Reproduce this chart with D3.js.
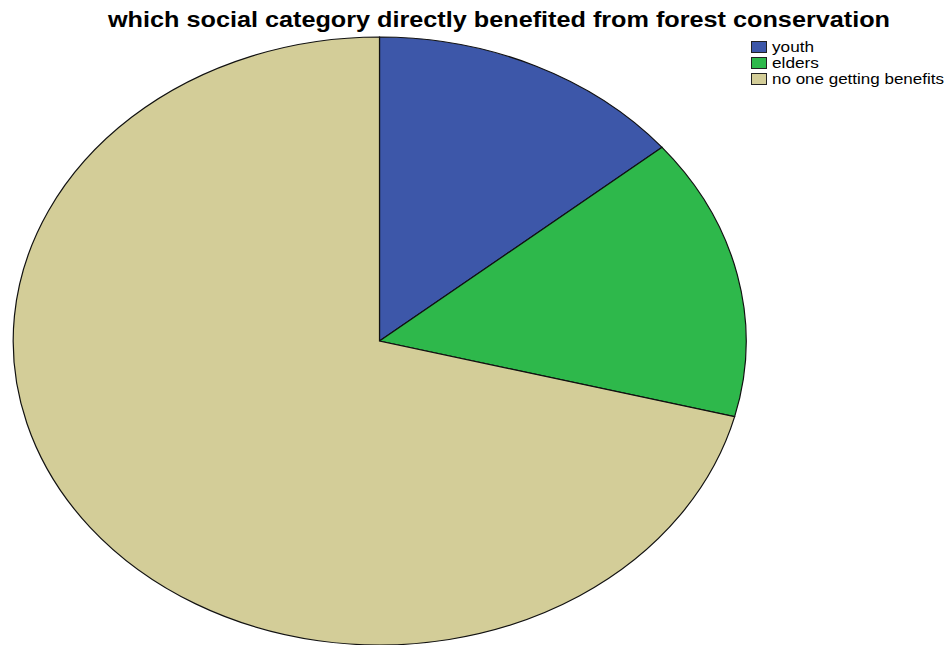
<!DOCTYPE html>
<meta charset="utf-8">
<script src="https://d3js.org/d3.v7.min.js"></script>
<style>
body { margin: 0; background: #fff; }
text { font-family: "Liberation Sans", Arial, sans-serif; }
</style>
<div id="chart"></div>
<script>

// chart data
var categories = ["youth", "elders", "no one getting benefits"];
var values = [14, 15, 71];
var colors = ["#3d57a9", "#2eb84b", "#d3cd98"];

var width = 946, height = 645;

var svg = d3.select("#chart")
  .append("svg")
    .attr("width", width)
    .attr("height", height);

// title (the original image is squashed, so force the width)
svg.append("text")
  .attr("x", 108)
  .attr("y", 27)
  .attr("textLength", 782)
  .attr("lengthAdjust", "spacingAndGlyphs")
  .style("font-size", "22px")
  .style("font-weight", "bold")
  .text("which social category directly benefited from forest conservation");

// pie is drawn on a unit circle and stretched into the ellipse
var cx = 379.5, cy = 341, rx = 366.5, ry = 304;

var pie = d3.pie().sort(null).value(function(d) { return d; });
var arc = d3.arc().innerRadius(0).outerRadius(1);

var g = svg.append("g")
  .attr("transform", "translate(" + cx + "," + cy + ") scale(" + rx + "," + ry + ")");

g.selectAll("path")
  .data(pie(values))
  .enter()
  .append("path")
    .attr("d", arc)
    .attr("fill", function(d, i) { return colors[i]; })
    .attr("stroke", "#111")
    .attr("stroke-width", 1.2)
    .attr("vector-effect", "non-scaling-stroke");

// legend
var legendWidths = [42, 47, 172];
var legend = svg.append("g")
  .attr("transform", "translate(751,41)");

var rows = legend.selectAll("g")
  .data(categories)
  .enter()
  .append("g")
    .attr("transform", function(d, i) { return "translate(0," + (i * 16) + ")"; });

rows.append("rect")
  .attr("x", 0.5)
  .attr("y", 0.5)
  .attr("width", 15)
  .attr("height", 11)
  .attr("fill", function(d, i) { return colors[i]; })
  .attr("stroke", "#222")
  .attr("stroke-width", 1);

rows.append("text")
  .attr("x", 21)
  .attr("y", 11)
  .attr("textLength", function(d, i) { return legendWidths[i]; })
  .attr("lengthAdjust", "spacingAndGlyphs")
  .style("font-size", "15px")
  .text(function(d) { return d; });

</script>
